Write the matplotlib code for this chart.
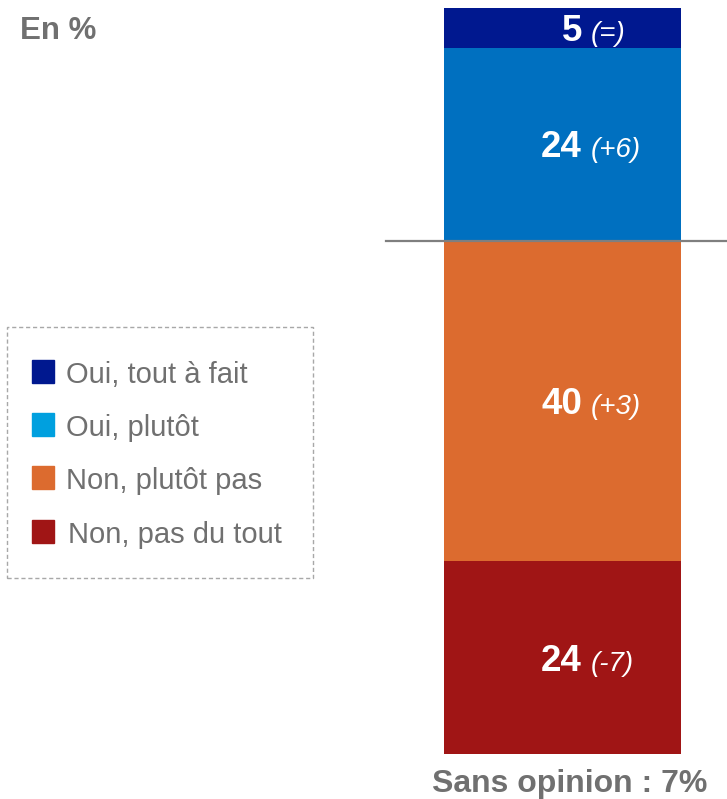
import matplotlib.pyplot as plt
from matplotlib.patches import Rectangle

# data (stacked from bottom to top)
categories = ["Non, pas du tout", "Non, plutôt pas", "Oui, plutôt", "Oui, tout à fait"]
values = [24, 40, 24, 5]
changes = ["(-7)", "(+3)", "(+6)", "(=)"]
bar_colors = ["#A01515", "#DC6B2F", "#0070C0", "#00188F"]

# legend (top to bottom)
legend_labels = ["Oui, tout à fait", "Oui, plutôt", "Non, plutôt pas", "Non, pas du tout"]
legend_colors = ["#00188F", "#00A0DF", "#DC6B2F", "#A01515"]

sans_opinion = 7

plt.rcParams['font.family'] = ['Liberation Sans', 'DejaVu Sans']
grey = "#707070"

W, H = 727, 799
fig = plt.figure(figsize=(W / 100, H / 100), dpi=100)


def fx(x):
    return x / W


def fy(y):
    return 1 - y / H


# bar axes: spans x 386..727 px, y 8..754 px
ax = fig.add_axes([fx(386), fy(754), fx(727 - 386), (754 - 8) / H])
ax.set_xlim(0, 1)
ax.set_ylim(0, sum(values))
ax.axis('off')

xc = (562.5 - 386) / 341
bw = 237 / 341
px_unit = 746 / sum(values)
num_x = (582 - 386) / 341
chg_x = (591 - 386) / 341

bottom = 0
for v, c, ch in zip(values, bar_colors, changes):
    ax.bar(xc, v, width=bw, bottom=bottom, color=c, zorder=1)
    yb = bottom + v / 2 - 13 / px_unit
    ax.text(num_x, yb, str(v), color="white", fontsize=26.5, fontweight="bold",
            ha="right", va="baseline", zorder=3)
    ax.text(chg_x, yb, ch, color="white", fontsize=20, fontstyle="italic",
            ha="left", va="baseline", zorder=3)
    bottom += v

# separation line between oui / non
ax.axhline(values[0] + values[1], color="#7F7F7F", lw=1.6, zorder=2, clip_on=False)

# titles
fig.text(fx(20), fy(39), "En %", color=grey, fontsize=22.5, fontweight="bold",
         ha="left", va="baseline")
fig.text(fx(569.5), fy(792), f"Sans opinion : {sans_opinion}%", color=grey,
         fontsize=23, fontweight="bold", ha="center", va="baseline")

# legend box
fig.patches.append(Rectangle((fx(7), fy(578)), fx(313 - 7), (578 - 327) / H,
                             transform=fig.transFigure, fill=False,
                             edgecolor="#A8A8A8", lw=1, linestyle=(0, (3, 2))))
for i, (lab, col) in enumerate(zip(legend_labels, legend_colors)):
    yc = 371.5 + i * 53.2
    fig.patches.append(Rectangle((fx(32), fy(yc + 11.5)), fx(22), 23 / H,
                                 transform=fig.transFigure, color=col))
    fig.text(fx(66 if i < 3 else 68), fy(yc + 11.5), lab, color=grey,
             fontsize=21, ha="left", va="baseline")

fig.savefig("out.png", dpi=100)
